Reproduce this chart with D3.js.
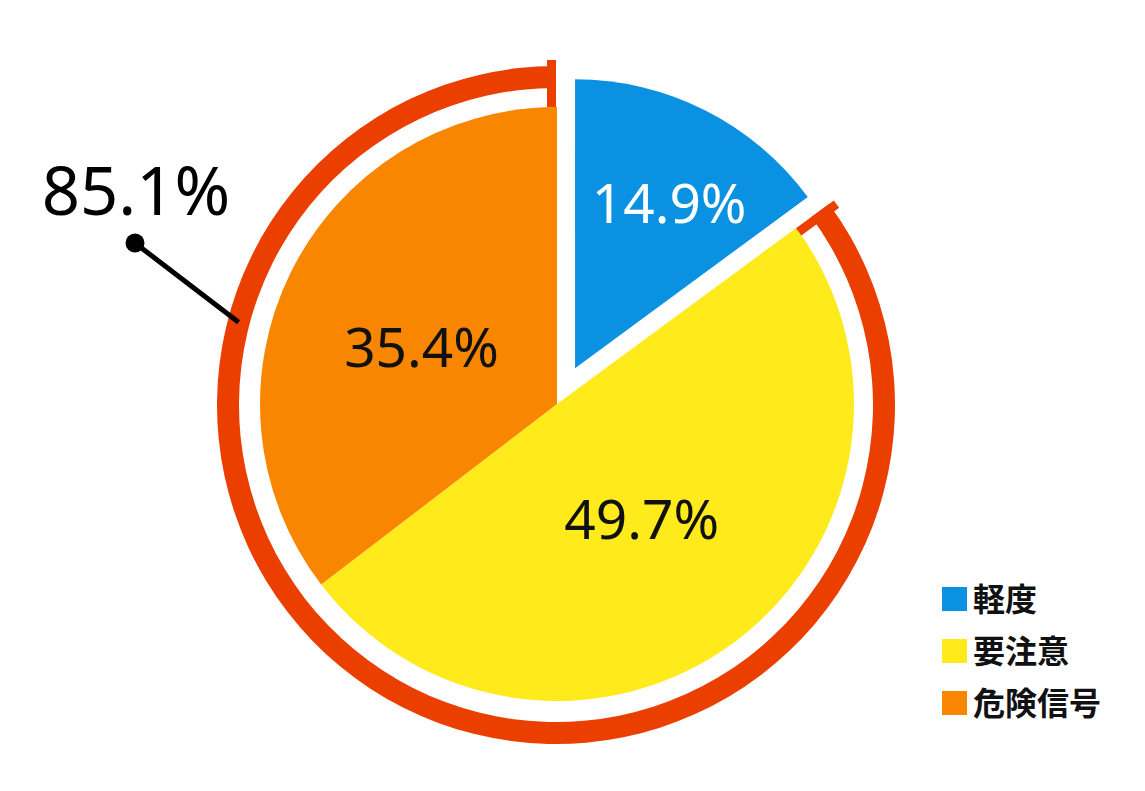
<!DOCTYPE html>
<html>
<head>
<meta charset="utf-8">
<script src="https://cdn.jsdelivr.net/npm/d3@7"></script>
<style>
  html, body { margin: 0; padding: 0; background: #ffffff; }
  svg { display: block; }
</style>
</head>
<body>
<svg id="chart" width="1145" height="791"></svg>
<script>
// ---- data ----
const categories = ["軽度", "要注意", "危険信号"];
const values = [14.9, 49.7, 35.4];
const colors = ["#0a91e1", "#ffea1b", "#f98600"];
const labelColors = ["#ffffff", "#111111", "#111111"];
const highlightLabel = "85.1%";   // 要注意 + 危険信号
const ringColor = "#eb3f00";

const svg = d3.select("#chart");
const cx = 557, cy = 404;
const r = 297;

const pie = d3.pie().sort(null).value(d => d)
  .startAngle(0).endAngle(2 * Math.PI);
const arcs = pie(values);

const g = svg.append("g").attr("transform", `translate(${cx},${cy})`);

const explode = [40, 0, 0];
const outerR = [289, r, r];

// slices
arcs.forEach((a, i) => {
  const mid = (a.startAngle + a.endAngle) / 2;
  const ox = explode[i] * Math.sin(mid), oy = -explode[i] * Math.cos(mid);
  g.append("path")
    .attr("transform", `translate(${ox},${oy})`)
    .attr("d", d3.arc().innerRadius(0).outerRadius(outerR[i])(a))
    .attr("fill", colors[i]);
});

// labels
const fmt = v => v.toFixed(1) + "%";
const labelR = [190, 143, 147];
arcs.forEach((a, i) => {
  const mid = (a.startAngle + a.endAngle) / 2 + (i === 0 ? 0.05 : (i === 2 ? -0.06 : 0.01));
  const ox = explode[i] * Math.sin((a.startAngle + a.endAngle) / 2);
  const oy = -explode[i] * Math.cos((a.startAngle + a.endAngle) / 2);
  const x = ox + labelR[i] * Math.sin(mid);
  const y = oy - labelR[i] * Math.cos(mid);
  g.append("text")
    .attr("x", x).attr("y", y)
    .attr("text-anchor", "middle")
    .attr("dy", "0.36em")
    .attr("font-family", "'Noto Sans', sans-serif")
    .attr("font-size", 55)
    .attr("fill", labelColors[i])
    .text(fmt(values[i]));
});

// outer ring around 要注意 + 危険信号
const ringStart = arcs[1].startAngle, ringEnd = arcs[2].endAngle;
const ringG = svg.append("g").attr("transform", `translate(${cx - 1},${cy + 1})`);
ringG.append("path")
  .attr("d", d3.arc().innerRadius(317).outerRadius(339)
    .startAngle(ringStart).endAngle(ringEnd)())
  .attr("fill", ringColor);
// end ticks
const deg = a => a * 180 / Math.PI;
ringG.append("rect")
  .attr("x", 0).attr("y", -345).attr("width", 9).attr("height", 47)
  .attr("transform", `rotate(${deg(ringStart)})`)
  .attr("fill", ringColor);
ringG.append("rect")
  .attr("x", -9).attr("y", -345).attr("width", 9).attr("height", 47)
  .attr("transform", `rotate(${deg(ringEnd)})`)
  .attr("fill", ringColor);

// leader line + total label
const leadAngle = 284.6 * Math.PI / 180;
const lx2 = cx - 1 + 328 * Math.sin(leadAngle), ly2 = cy + 1 - 328 * Math.cos(leadAngle);
const lx1 = 135, ly1 = 243;
svg.append("line")
  .attr("x1", lx1).attr("y1", ly1).attr("x2", lx2).attr("y2", ly2)
  .attr("stroke", "#000").attr("stroke-width", 5);
svg.append("circle").attr("cx", lx1).attr("cy", ly1).attr("r", 9.5).attr("fill", "#000");
svg.append("text")
  .attr("x", 136).attr("y", 215)
  .attr("text-anchor", "middle")
  .attr("font-family", "'Noto Sans', sans-serif")
  .attr("font-size", 67)
  .attr("fill", "#000")
  .text(highlightLabel);

// legend
const legend = svg.append("g").attr("transform", "translate(942,599)");
const ly = d3.scaleBand().domain(categories).range([0, 156]).paddingInner(0);
categories.forEach((c, i) => {
  const y = i * 52;
  legend.append("rect").attr("x", 0).attr("y", y - 12).attr("width", 25).attr("height", 24)
    .attr("fill", colors[i]);
  legend.append("text")
    .attr("x", 31).attr("y", y)
    .attr("dy", "0.36em")
    .attr("font-family", "'Noto Sans CJK JP', sans-serif")
    .attr("font-weight", "bold")
    .attr("font-size", 32)
    .attr("fill", "#111")
    .text(c);
});
</script>
</body>
</html>
